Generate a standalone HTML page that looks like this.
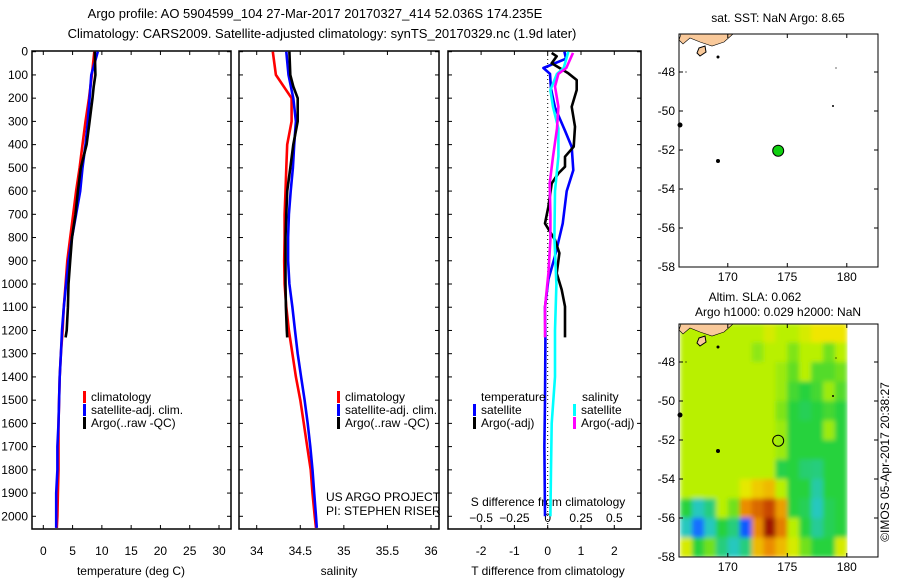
<!DOCTYPE html>
<html><head><meta charset="utf-8"><style>
body{margin:0;background:#fff;}
svg{display:block;font-family:"Liberation Sans",sans-serif;}
text{font-size:12px;fill:#000;}
</style></head><body>
<svg id="fig" width="900" height="580" xmlns="http://www.w3.org/2000/svg">
<defs>
<filter id="blur" x="0" y="0" width="1" height="1"><feGaussianBlur stdDeviation="2.5" edgeMode="duplicate"/></filter>
<clipPath id="slaclip"><rect x="679" y="324" width="169" height="233"/></clipPath>
</defs>
<text x="315" y="18" text-anchor="middle" style="font-size:13px">Argo profile: AO 5904599_104 27-Mar-2017 20170327_414 52.036S 174.235E</text>
<text x="322" y="38" text-anchor="middle" style="font-size:13px">Climatology: CARS2009. Satellite-adjusted climatology: synTS_20170329.nc (1.9d later)</text>
<g clip-path="url(#slaclip)"><g id="sla" filter="url(#blur)"></g></g>
<g id="g"></g>
</svg>
<script>
// ---- data ----
const depthTicks=[0,100,200,300,400,500,600,700,800,900,1000,1100,1200,1300,1400,1500,1600,1700,1800,1900,2000];
const tTicks=[0,5,10,15,20,25,30];
const sTicks=[34,34.5,35,35.5,36];
const dTTicks=[-2,-1,0,1,2];
const dSTicks=[-0.5,-0.25,0,0.25,0.5];
const climDepth=[0,100,200,300,400,500,600,700,800,900,1000,1100,1200,1300,1400,1500,1600,1700,1800,1900,2000,2050];
const tClim=[8.7,8.3,7.8,7.2,6.7,6.2,5.6,5.1,4.6,4.1,3.8,3.5,3.3,3.0,2.8,2.7,2.6,2.6,2.6,2.5,2.4,2.3];
const tSat=[9.3,8.2,7.9,7.6,7.2,6.7,6.3,5.6,4.9,4.3,3.9,3.5,3.2,3.0,2.8,2.7,2.6,2.4,2.4,2.2,2.2,2.2];
const sClim=[34.185,34.22,34.40,34.40,34.35,34.34,34.33,34.32,34.32,34.315,34.32,34.34,34.37,34.41,34.45,34.5,34.54,34.58,34.62,34.64,34.665,34.68];
const sSat=[34.34,34.365,34.42,34.45,34.43,34.415,34.39,34.37,34.36,34.36,34.375,34.41,34.44,34.47,34.51,34.55,34.585,34.615,34.64,34.66,34.68,34.69];
const argoDepth=[0,100,150,200,300,400,500,600,700,800,900,1000,1100,1200,1230];
const tArgo=[8.8,8.9,8.6,8.4,7.9,7.4,6.4,5.9,5.5,4.9,4.6,4.3,4.2,4.0,3.8];
const sArgo=[34.375,34.385,34.42,34.47,34.47,34.42,34.385,34.35,34.34,34.33,34.33,34.33,34.335,34.345,34.35];
const dTSatDepth=[0,30,70,95,160,240,340,410,510,600,740,880,980,1100,1240,1500,1700,2000];
const dTSat=[0.5,0.55,-0.13,0.07,0.1,0.22,0.52,0.72,0.77,0.57,0.45,0.22,0.02,-0.08,-0.07,-0.08,-0.1,-0.08];
const dTArgoDepth=[5,20,50,93,122,165,237,323,409,452,495,524,567,667,739,810,867,954,1025,1097,1230];
const dTArgo=[0.12,0.27,0.12,0.62,0.87,0.87,0.72,0.82,0.78,0.52,0.52,0.32,0.12,0.02,-0.08,0.22,0.35,0.27,0.42,0.52,0.52];
const dSSatDepth=[0,70,95,165,237,330,450,600,800,1000,1200,1400,1600,1800,2000];
const dSSat=[0.155,0.12,0.07,0.02,0.04,0.08,0.08,0.055,0.05,0.065,0.055,0.055,0.03,0.025,0.02];
const dSArgoDepth=[5,70,95,150,237,330,452,567,700,810,954,1100,1230];
const dSArgo=[0.19,0.14,0.08,0.055,0.08,0.07,0.04,0.015,0.02,0.02,0.005,-0.02,-0.02];
const latTicks=[-48,-50,-52,-54,-56,-58];
const lonTicks=[170,175,180];
const floatLon=174.235, floatLat=-52.036;
const slaLons=[166,167,168,169,170,171,172,173,174,175,176,177,178,179];
const slaLats=[-46,-47,-48,-49,-50,-51,-52,-53,-54,-55,-56,-57];
const slaGrid=[
[5,5,5,5,5,5,5,5.5,5,5,5.5,6,6,6],
[5,5,5,5,5,5,4.7,5,5,4.6,5,5,4.5,5],
[5,5,5,5,5,5,5,5,4.8,4.4,5,4.3,4.3,4.5],
[5,5,5,5,5,5,5,5,4.8,4.2,4,4.2,4.8,4.3],
[5,5,5,5,5,5,5,5,4.6,4,3.8,4,4.2,4],
[5,5,5,5,5,5,5,5,4.8,4,4,4,4.8,4],
[5,5,5,5,5,5,5,5,4.8,4,4,4,4,4],
[5,5,5,5,5,5,5,5,3.9,4,3.6,3.5,4,4],
[5,5,5,5,5,5.8,6.3,6.5,5,4,4,3.2,4,4],
[4,3,3.5,5,4.5,7,7.5,8,6.8,4,3.8,3,3.8,4],
[3,1.5,3,4,3.5,1.3,7,8.7,7.2,5,4,3.3,3.8,4],
[5.5,4,4.5,3.5,3,3.5,6.5,7,6.5,5.5,4.5,4,4,5.5]];

const g=document.getElementById('g');
const slaG=document.getElementById('sla');
const NS='http://www.w3.org/2000/svg';
function el(t,a,txt,parent){const e=document.createElementNS(NS,t);for(const k in a)e.setAttribute(k,a[k]);if(txt!==undefined&&txt!==null)e.textContent=txt;(parent||g).appendChild(e);return e;}

const yD=d=>51.7+d*(516.3-51.7)/2000;
const xT=t=>43.3+t*(219-43.3)/30;
const xS=s=>256.7+(s-34)*(431-256.7)/2;
const xdT=v=>547.7+v*33.3;
const xdS=v=>547.7+v*133.2;
const PT=51,PB=529;

function frame(x0,x1,name){
  const r=el('rect',{x:x0,y:PT,width:x1-x0,height:PB-PT,fill:'none',stroke:'#000','stroke-width':1.5});
  
  
}
function line(xs,ds,xf,col,name){
  const p=xs.map((v,i)=>xf(v).toFixed(1)+','+yD(ds[i]).toFixed(1)).join(' ');
  const e=el('polyline',{points:p,fill:'none',stroke:col,'stroke-width':2.6,'stroke-linejoin':'round'});
  
  
}
function txt(x,y,s,anchor,name,extra){
  const e=el('text',Object.assign({x:x,y:y,'text-anchor':anchor||'start'},extra||{}),s);
  
  
  return e;
}
function legend(x,y,col,s,name){
  const e=el('rect',{x:x,y:y-10,width:3,height:12,fill:col});
  
  
  txt(x+8,y,s,'start',name);
}

const panels=[[32,231,'temperature-panel'],[239,439,'salinity-panel'],[448,641,'difference-panel']];
panels.forEach(p=>frame(p[0],p[1],p[2]));
depthTicks.forEach(d=>{
  txt(28,yD(d)+4,String(d),'end','depth-tick-label');
  panels.forEach(p=>{el('line',{x1:p[0],x2:p[0]+4,y1:yD(d),y2:yD(d),stroke:'#000'});el('line',{x1:p[1],x2:p[1]-4,y1:yD(d),y2:yD(d),stroke:'#000'});});
});
function xticks(vals,f,name){vals.forEach(v=>{const x=f(v);
  el('line',{x1:x,x2:x,y1:PB,y2:PB-4,stroke:'#000'});el('line',{x1:x,x2:x,y1:PT,y2:PT+4,stroke:'#000'});
  txt(x,555,String(v),'middle',name);});}
xticks(tTicks,xT,'temperature-tick-label');
xticks(sTicks,xS,'salinity-tick-label');
xticks(dTTicks,xdT,'t-diff-tick-label');
txt(131,575,'temperature (deg C)','middle','temperature-axis-title');
txt(339,575,'salinity','middle','salinity-axis-title');
txt(548,575,'T difference from climatology','middle','t-diff-axis-title');
dSTicks.forEach(v=>txt(xdS(v),522,String(v).replace('-','\u2212'),'middle','s-diff-tick-label'));
txt(548,506,'S difference from climatology','middle','s-diff-axis-title');

line(tClim,climDepth,xT,'#f00','temp-climatology-line');
line(tSat,climDepth,xT,'#00f','temp-satellite-line');
line(tArgo,argoDepth,xT,'#000','temp-argo-line');
legend(83,401,'#f00','climatology','legend-climatology');
legend(83,414,'#00f','satellite-adj. clim.','legend-satellite');
legend(83,427,'#000','Argo(..raw -QC)','legend-argo');
line(sClim,climDepth,xS,'#f00','sal-climatology-line');
line(sSat,climDepth,xS,'#00f','sal-satellite-line');
line(sArgo,argoDepth,xS,'#000','sal-argo-line');
legend(337,401,'#f00','climatology','legend-climatology-2');
legend(337,414,'#00f','satellite-adj. clim.','legend-satellite-2');
legend(337,427,'#000','Argo(..raw -QC)','legend-argo-2');
txt(326,501,'US ARGO PROJECT','start','project-label');
txt(326,515,'PI: STEPHEN RISER','start','pi-label');
el('line',{x1:xdT(0),x2:xdT(0),y1:PT,y2:PB,stroke:'#000','stroke-dasharray':'1,3'});
line(dTSat,dTSatDepth,xdT,'#00f','t-diff-satellite-line');
line(dTArgo,dTArgoDepth,xdT,'#000','t-diff-argo-line');
line(dSSat,dSSatDepth,xdS,'#0ff','s-diff-satellite-line');
line(dSArgo,dSArgoDepth,xdS,'#f0f','s-diff-argo-line');
txt(481,401,'temperature','start','legend-temperature-header');
legend(473,414,'#00f','satellite','legend-t-satellite');
legend(473,427,'#000','Argo(-adj)','legend-t-argo');
txt(582,401,'salinity','start','legend-salinity-header');
legend(573,414,'#0ff','satellite','legend-s-satellite');
legend(573,427,'#f0f','Argo(-adj)','legend-s-argo');

const MX0=679,MX1=878;
const xLon=l=>679+(l-165.9)*11.9;
const yLat=(la,top)=>top+38+(-48-la)*19.5;
function cmap(v){
  const st=[[0,0,0,140],[1,0,60,255],[2,40,160,255],[3,40,200,190],[4,40,210,60],[5,185,240,0],[6,240,230,0],[7,235,140,0],[8,200,70,0],[9,140,0,0]];
  v=Math.max(0,Math.min(9,v));const i=Math.min(8,Math.floor(v)),f=v-i;
  const a=st[i],b=st[i+1];return 'rgb('+[1,2,3].map(k=>Math.round(a[k]+(b[k]-a[k])*f)).join(',')+')';
}
function map(top,name,withSla){
  const bot=top+233;
  if(withSla){
    slaGrid.forEach((row,r)=>row.forEach((v,c)=>{
      const x0=xLon(slaLons[c]),x1=xLon(slaLons[c]+1);
      const y0=yLat(slaLats[r],top),y1=yLat(slaLats[r]-1,top);
      const e=el('rect',{x:x0,y:y0,width:x1-x0+0.5,height:y1-y0+0.5,fill:cmap(v)},null,slaG);
      
      
    }));
  }
  const land=el('polygon',{points:[[MX0+2,top],[733,top],[724,top+8],[712,top+12],[700,top+8],[690,top+4],[683,top+10],[MX0,top+6]].map(p=>p.join(',')).join(' '),fill:'#f9c99a',stroke:'#000','stroke-width':0.6});
  
  
  el('polygon',{points:`699,${top+14} 705,${top+12} 706,${top+18} 700,${top+22} 697,${top+19}`,fill:'#f9c99a',stroke:'#000','stroke-width':1});
  [[718,top+23,1.5],[680,top+91,2.5],[718,top+127,2],[833,top+72,1],[836,top+34,0.6],[686,top+38,0.6]].forEach(p=>el('circle',{cx:p[0],cy:p[1],r:p[2],fill:'#000'}));
  const fr=el('rect',{x:MX0,y:top,width:MX1-MX0,height:bot-top,fill:'none',stroke:'#000','stroke-width':1});
  
  
  latTicks.forEach(la=>{const y=yLat(la,top);
    el('line',{x1:MX0,x2:MX0+4,y1:y,y2:y,stroke:'#000'});el('line',{x1:MX1,x2:MX1-4,y1:y,y2:y,stroke:'#000'});
    txt(675,y+4,String(la),'end','lat-tick-label');});
  lonTicks.forEach(lo=>{const x=xLon(lo);
    el('line',{x1:x,x2:x,y1:bot,y2:bot-4,stroke:'#000'});el('line',{x1:x,x2:x,y1:top,y2:top+4,stroke:'#000'});
    txt(x,bot+14,String(lo),'middle','lon-tick-label');});
  const c=el('circle',{cx:xLon(floatLon),cy:yLat(floatLat,top),r:5.5,fill:withSla?'none':'#10d010',stroke:'#000','stroke-width':1});
  
  
}
map(34,'sst-map-frame',false);
map(324,'sla-map-frame',true);
txt(778,22,'sat. SST: NaN Argo: 8.65','middle','sst-map-title');
txt(755,301,'Altim. SLA: 0.062','middle','sla-map-title');
txt(778,316,'Argo h1000: 0.029 h2000: NaN','middle','sla-map-subtitle');
txt(0,0,'\u00a9IMOS 05-Apr-2017 20:38:27','middle','timestamp-label',{transform:'translate(889,462) rotate(-90)'});
</script>
</body></html>
